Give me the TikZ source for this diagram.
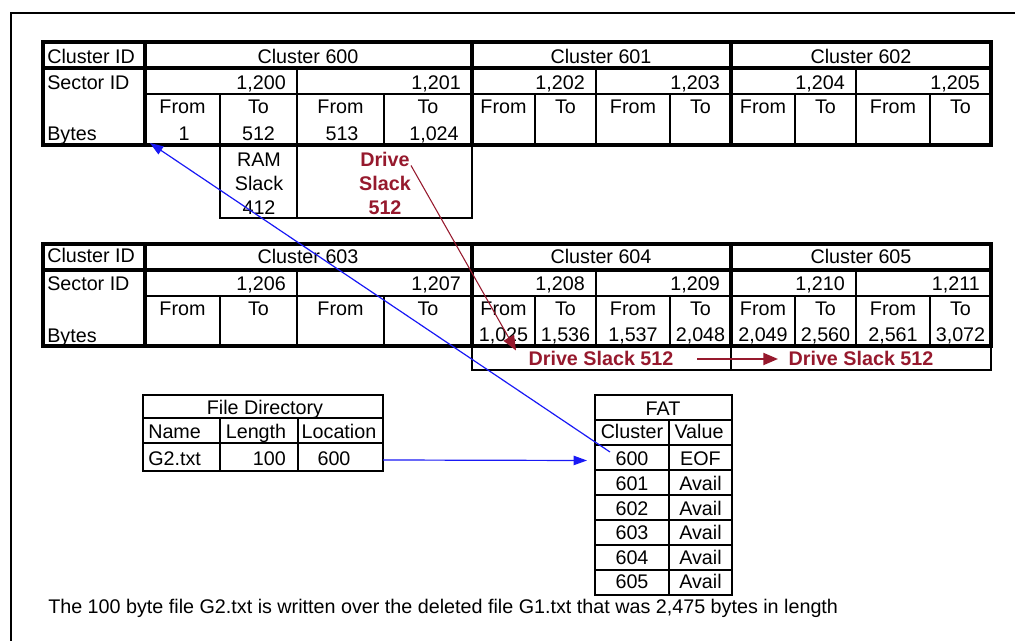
\documentclass[tikz,border=0pt]{standalone}
\usepackage{fontspec}
\setmainfont{Liberation Sans}
\usetikzlibrary{arrows.meta,calc}

\definecolor{slackred}{RGB}{150,25,45}
\definecolor{linkblue}{RGB}{25,25,245}
\newcommand{\cellfont}{\fontsize{14.8}{18.2}\selectfont}

\begin{document}
\begin{tikzpicture}[
    x=0.75pt, y=-0.75pt,
    lbl/.style={inner sep=0pt, font=\cellfont, text height=10.7pt, text depth=0pt},
    slack/.style={lbl, font=\cellfont\bfseries, text=slackred},
    block/.style={inner sep=0pt, font=\cellfont, align=center},
    thinrule/.style={line width=1.1pt},
    midrule/.style={line width=1.7pt},
    thickrule/.style={line width=2.3pt},
    bluelink/.style={linkblue, line width=0.9pt, -{Triangle[length=10pt,width=7pt]}},
    redlink/.style={slackred, line width=#1, -{Triangle[length=11pt,width=9pt]}}
]
\useasboundingbox (0,0) rectangle (1015,641);
\draw[line width=2.2pt] (11,641) -- (11,13) -- (1016,13);

% clusters 600-602
\draw[thinrule] (145,94) -- (991,94);
\foreach \x in {297,596,856} \draw[thinrule] (\x,68) -- (\x,145);
\foreach \x in {220,384,535,670,795,930} \draw[thinrule] (\x,94) -- (\x,145);
\draw[thinrule] (220,145) rectangle (297,218) (297,145) rectangle (472,218);
\draw[thickrule] (43,68) -- (991,68);
\foreach \x in {145,472,731} \draw[thickrule] (\x,42) -- (\x,145);
\draw[thickrule] (43,42) rectangle (991,145);

\node[lbl, anchor=west] (tid) at (47,56) {Cluster ID};
\node[lbl, anchor=west] (tsid) at (47,82) {Sector ID};
\node[lbl, anchor=west] (tbytes) at (47,133.5) {Bytes};
\foreach \cx/\c in {308/600, 601/601, 861/602}
    \node[lbl] (tc\c) at (\cx,56) {Cluster \c};
\foreach \ex/\s in {297/200, 472/201, 596/202, 731/203, 856/204, 991/205}
    \node[lbl, anchor=east] (ts\s) at (\ex-11,82) {1,\s};
\foreach \cx [count=\i] in {182.5,258.5,340.5,428,503.5,565.5,633,700.5,763,825.5,893,960.5} {
    \ifodd\i \def\ft{From}\else \def\ft{To}\fi
    \node[lbl] (tft\i) at (\cx,106.5) {\ft};
}
\foreach \cx/\v [count=\i] in {184/1, 258.5/512, 342/513, 434/{1,024}}
    \node[lbl] (tb\i) at (\cx,133.5) {\v};
\node[block] (ram) at (259,183.5) {RAM\\Slack\\412};
\node[block, font=\cellfont\bfseries, text=slackred] (dslack) at (385,183.5) {Drive\\Slack\\512};

% clusters 603-605
\draw[thinrule] (145,296) -- (991,296);
\foreach \x in {297,596,856} \draw[thinrule] (\x,270) -- (\x,346);
\foreach \x in {220,384,535,670,795,930} \draw[thinrule] (\x,296) -- (\x,346);
\draw[thinrule] (472,346) rectangle (991,370) (731,346) -- (731,370);
\draw[thickrule] (43,270) -- (991,270);
\foreach \x in {145,472,731} \draw[thickrule] (\x,244) -- (\x,346);
\draw[thickrule] (43,244) rectangle (991,346);

\node[lbl, anchor=west] (mid) at (47,255.5) {Cluster ID};
\node[lbl, anchor=west] (msid) at (47,283.5) {Sector ID};
\node[lbl, anchor=west] (mbytes) at (47,335) {Bytes};
\foreach \cx/\c in {308/603, 601/604, 861/605}
    \node[lbl] (mc\c) at (\cx,256.5) {Cluster \c};
\foreach \ex/\s in {297/206, 472/207, 596/208, 731/209, 856/210, 991/211}
    \node[lbl, anchor=east] (ms\s) at (\ex-11,283.5) {1,\s};
\foreach \cx [count=\i] in {182.5,258.5,340.5,428,503.5,565.5,633,700.5,763,825.5,893,960.5} {
    \ifodd\i \def\ft{From}\else \def\ft{To}\fi
    \node[lbl] (mft\i) at (\cx,308.5) {\ft};
}
\foreach \cx/\v [count=\i] in {503.5/{1,025}, 565.5/{1,536}, 633/{1,537}, 700.5/{2,048},
                               763/{2,049}, 825.5/{2,560}, 893/{2,561}, 960.5/{3,072}}
    \node[lbl] (mb\i) at (\cx,334) {\v};
\node[slack] (ds604) at (601,358.5) {Drive Slack 512};
\node[slack] (ds605) at (861,358.5) {Drive Slack 512};

% file directory
\draw[thinrule] (143,418) -- (383,418) (143,443) -- (383,443);
\draw[thinrule] (220,418) -- (220,471) (298,418) -- (298,471);
\draw[midrule] (143,395) rectangle (383,471);
\node[lbl] (fdtitle) at (265,407.5) {File Directory};
\node[lbl, anchor=west] (fdname) at (148,431) {Name};
\node[lbl] (fdlen) at (256,431) {Length};
\node[lbl] (fdloch) at (339,431) {Location};
\node[lbl, anchor=west] (fdfile) at (148,458) {G2.txt};
\node[lbl, anchor=east] (fdsize) at (286,458) {100};
\node[lbl] (fdloc) at (334,458) {600};

% FAT
\foreach \y in {420,470,495,520,545,570} \draw[thinrule] (595,\y) -- (732,\y);
\draw[thinrule] (669,420) -- (669,595);
\draw[midrule] (595,445) -- (732,445);
\draw[midrule] (595,395) rectangle (732,595);
\node[lbl] (fattitle) at (663,408.5) {FAT};
\node[lbl] (fatcl) at (632,431.5) {Cluster};
\node[lbl] (fatval) at (699,431.5) {Value};
\foreach \n/\v/\y in {600/EOF/458.5, 601/Avail/483.5, 602/Avail/508,
                      603/Avail/532.5, 604/Avail/557, 605/Avail/581.5} {
    \node[lbl] (fat\n) at (632,\y) {\n};
    \node[lbl] (fatv\n) at (700.5,\y) {\v};
}

\node[lbl, anchor=west] (note) at (48,606) {The 100 byte file G2.txt is written over the deleted file G1.txt that was 2,475 bytes in length};

% links
\draw[bluelink] ($(fdloc)+(49,2)$) -- ($(fat600)+(-45,2)$);
\draw[bluelink] ($(fat600)+(-22,-6.5)$) -- ($(tb1)+(-34,9.5)$);
\draw[redlink=0.8pt] ($(dslack)+(26,-18)$) -- ($(ds604)+(-85,-8)$);
\draw[redlink=1.4pt] ($(ds604)+(96,0.5)$) -- ($(ds605)+(-83,0.5)$);
\end{tikzpicture}
\end{document}
